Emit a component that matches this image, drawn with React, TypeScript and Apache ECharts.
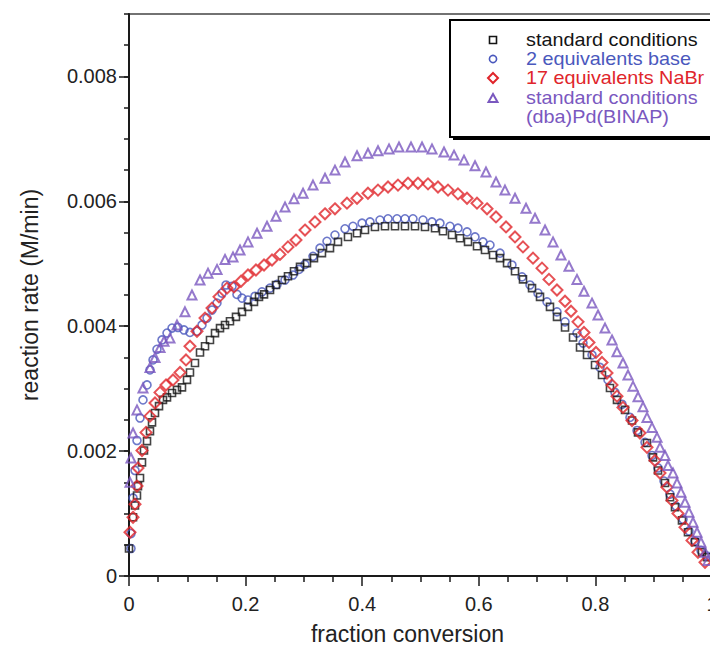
import React, { useEffect, useRef } from "react";
import * as echarts from "echarts";

const FONT = '"Liberation Sans", Arial, Helvetica, sans-serif';

const xTicks = [0, 0.2, 0.4, 0.6, 0.8, 1];
const yLabelTicks = [0, 0.002, 0.004, 0.006, 0.008];

const seriesNames = [
  "standard conditions",
  "2 equivalents base",
  "17 equivalents NaBr",
  "standard conditions\n(dba)Pd(BINAP)",
];

const standardConditions = [
  [0.0, 0.00044], [0.0069, 0.00094], [0.0103, 0.00113], [0.0137, 0.00129], [0.0154, 0.00144],
  [0.0189, 0.00157], [0.0223, 0.00182], [0.0257, 0.00201], [0.0309, 0.00216], [0.036, 0.00232],
  [0.0395, 0.00246], [0.0446, 0.00261], [0.0515, 0.00272], [0.0583, 0.00282], [0.0652, 0.00286],
  [0.0738, 0.00293], [0.0823, 0.00298], [0.0909, 0.00302], [0.0995, 0.00314], [0.1046, 0.00326],
  [0.1132, 0.00341], [0.1218, 0.00358], [0.1304, 0.00368], [0.1389, 0.00378], [0.1475, 0.00389],
  [0.1561, 0.00397], [0.1647, 0.00402], [0.1732, 0.00408], [0.1835, 0.00415], [0.1938, 0.00423],
  [0.2041, 0.00431], [0.2144, 0.00439], [0.223, 0.00447], [0.2316, 0.00451], [0.2419, 0.00458],
  [0.2521, 0.00466], [0.2624, 0.00474], [0.2727, 0.0048], [0.283, 0.00488], [0.2933, 0.00495],
  [0.3053, 0.00501], [0.3173, 0.00509], [0.331, 0.00517], [0.3448, 0.00525], [0.3585, 0.00535],
  [0.3756, 0.00543], [0.3911, 0.00549], [0.4048, 0.00554], [0.4219, 0.00559], [0.4391, 0.0056],
  [0.4563, 0.0056], [0.4734, 0.0056], [0.4906, 0.0056], [0.5077, 0.00559], [0.5249, 0.00557],
  [0.5386, 0.00552], [0.554, 0.00546], [0.5678, 0.00541], [0.5815, 0.00535], [0.5969, 0.00528],
  [0.6106, 0.00522], [0.6244, 0.00514], [0.6364, 0.00509], [0.6484, 0.00501], [0.6621, 0.00488],
  [0.6758, 0.00475], [0.6913, 0.00461], [0.705, 0.00447], [0.7221, 0.00431], [0.7341, 0.00415],
  [0.7479, 0.00398], [0.7616, 0.00382], [0.7736, 0.00366], [0.7856, 0.00354], [0.7993, 0.00338],
  [0.8113, 0.00322], [0.825, 0.00301], [0.837, 0.00282], [0.8508, 0.00266], [0.8628, 0.00249],
  [0.8731, 0.0023], [0.8885, 0.00213], [0.8988, 0.0019], [0.9074, 0.00169], [0.9194, 0.00149],
  [0.928, 0.00126], [0.9365, 0.0011], [0.9485, 0.00089], [0.9588, 0.0007], [0.9708, 0.00054],
  [0.9828, 0.00038], [0.9914, 0.0003],
];

const twoEquivBase = [
  [0.0034, 0.00044], [0.0034, 0.00068], [0.0069, 0.00125], [0.0103, 0.00169], [0.0137, 0.00217],
  [0.0189, 0.00253], [0.024, 0.00282], [0.0309, 0.00306], [0.036, 0.0033], [0.0412, 0.00346],
  [0.048, 0.00363], [0.0566, 0.00378], [0.0652, 0.00389], [0.0738, 0.00397], [0.084, 0.00398],
  [0.0943, 0.00394], [0.1046, 0.0039], [0.1166, 0.00392], [0.1252, 0.00402], [0.1338, 0.00413],
  [0.1424, 0.00426], [0.1509, 0.00437], [0.1595, 0.00453], [0.1664, 0.00466], [0.1767, 0.00464],
  [0.1852, 0.00451], [0.1938, 0.00445], [0.2041, 0.00442], [0.2161, 0.00448], [0.2281, 0.00455],
  [0.2419, 0.00461], [0.2539, 0.00467], [0.2676, 0.00474], [0.2813, 0.00482], [0.2916, 0.00491],
  [0.3019, 0.00499], [0.3156, 0.00512], [0.3276, 0.00525], [0.3396, 0.00536], [0.3533, 0.00546],
  [0.3705, 0.00556], [0.3842, 0.0056], [0.3997, 0.00565], [0.4134, 0.00567], [0.4305, 0.0057],
  [0.4443, 0.00572], [0.4597, 0.00572], [0.4734, 0.00572], [0.4871, 0.00572], [0.5043, 0.0057],
  [0.5197, 0.00567], [0.5334, 0.00565], [0.5506, 0.0056], [0.5643, 0.00557], [0.5798, 0.00551],
  [0.5935, 0.00543], [0.6072, 0.00535], [0.6192, 0.0053], [0.6364, 0.00517], [0.6569, 0.00498],
  [0.6741, 0.00479], [0.6878, 0.00466], [0.7015, 0.00453], [0.717, 0.00439], [0.7341, 0.00423],
  [0.7479, 0.00407], [0.7684, 0.00389], [0.7787, 0.00373], [0.7942, 0.00354], [0.8079, 0.00334],
  [0.8216, 0.00314], [0.8336, 0.00294], [0.8456, 0.00275], [0.8593, 0.00254], [0.8714, 0.00233],
  [0.8851, 0.00214], [0.8971, 0.00193], [0.9074, 0.00173], [0.9177, 0.00152], [0.928, 0.00131],
  [0.9383, 0.00112], [0.9503, 0.00091], [0.9605, 0.00072], [0.9708, 0.00056], [0.9811, 0.00041],
  [0.9914, 0.00032],
];

const seventeenEquivNaBr = [
  [0.0017, 0.0007], [0.0069, 0.00094], [0.0103, 0.00115], [0.0137, 0.00144], [0.0154, 0.00173],
  [0.0223, 0.00201], [0.0292, 0.0023], [0.036, 0.00256], [0.0446, 0.00277], [0.0532, 0.00294],
  [0.0635, 0.00306], [0.0755, 0.00314], [0.0875, 0.00326], [0.0978, 0.00346], [0.1046, 0.00368],
  [0.1166, 0.00392], [0.1304, 0.00413], [0.1424, 0.00429], [0.1544, 0.00447], [0.1681, 0.00461],
  [0.1801, 0.00463], [0.1921, 0.00472], [0.2041, 0.00482], [0.2178, 0.0049], [0.2316, 0.00498],
  [0.2453, 0.00506], [0.259, 0.00515], [0.2727, 0.00527], [0.2864, 0.00538], [0.3019, 0.00554],
  [0.319, 0.00567], [0.3362, 0.0058], [0.3533, 0.00588], [0.3739, 0.00597], [0.3911, 0.00605],
  [0.4099, 0.00613], [0.4271, 0.00618], [0.4443, 0.00623], [0.4614, 0.00626], [0.4786, 0.00629],
  [0.4957, 0.00629], [0.5129, 0.00628], [0.53, 0.00623], [0.5472, 0.00618], [0.5643, 0.00612],
  [0.5798, 0.00605], [0.5969, 0.00597], [0.6141, 0.00588], [0.6295, 0.00575], [0.6467, 0.00559],
  [0.6621, 0.00543], [0.6758, 0.00527], [0.693, 0.00509], [0.7084, 0.00493], [0.7204, 0.00475],
  [0.7341, 0.00458], [0.7479, 0.0044], [0.7582, 0.00424], [0.7702, 0.00407], [0.7804, 0.0039],
  [0.789, 0.00374], [0.801, 0.00358], [0.8113, 0.00342], [0.8199, 0.00325], [0.8285, 0.00306],
  [0.837, 0.00288], [0.8473, 0.0027], [0.8628, 0.00249], [0.8765, 0.00229], [0.8885, 0.00206],
  [0.9022, 0.00185], [0.9108, 0.00165], [0.9228, 0.00142], [0.9314, 0.00121], [0.9417, 0.001],
  [0.9537, 0.00078], [0.9657, 0.00057], [0.976, 0.00038], [0.988, 0.00022],
];

const dbaPdBinap = [
  [0.0017, 0.0015], [0.0034, 0.00189], [0.0069, 0.00229], [0.0137, 0.00266], [0.024, 0.00301],
  [0.036, 0.00334], [0.0446, 0.0035], [0.0532, 0.00366], [0.06, 0.00376], [0.0703, 0.00381],
  [0.0823, 0.00402], [0.096, 0.00423], [0.108, 0.0045], [0.1218, 0.00474], [0.1355, 0.00485],
  [0.151, 0.00491], [0.1647, 0.00507], [0.1784, 0.00511], [0.1904, 0.00522], [0.2041, 0.00535],
  [0.2196, 0.00549], [0.2367, 0.0056], [0.2521, 0.00576], [0.2676, 0.00591], [0.283, 0.00604],
  [0.2985, 0.00613], [0.3156, 0.00626], [0.3362, 0.00637], [0.3533, 0.0065], [0.3705, 0.00663],
  [0.3911, 0.00673], [0.4099, 0.00677], [0.4271, 0.00681], [0.446, 0.00684], [0.4631, 0.00687],
  [0.4837, 0.00687], [0.5026, 0.00687], [0.5197, 0.00684], [0.5403, 0.00679], [0.5575, 0.00674],
  [0.5746, 0.00666], [0.5935, 0.00657], [0.6123, 0.00647], [0.6295, 0.00631], [0.6449, 0.00618],
  [0.6621, 0.00605], [0.681, 0.00589], [0.6964, 0.00573], [0.7136, 0.00554], [0.7273, 0.00535],
  [0.741, 0.00514], [0.7547, 0.00496], [0.7684, 0.00475], [0.7804, 0.00456], [0.7942, 0.00437],
  [0.8045, 0.00418], [0.8165, 0.00397], [0.8285, 0.00378], [0.837, 0.00359], [0.8473, 0.00341],
  [0.8559, 0.00322], [0.8645, 0.00304], [0.8731, 0.00287], [0.8817, 0.00271], [0.8885, 0.00254],
  [0.8971, 0.00238], [0.9057, 0.00222], [0.9108, 0.00206], [0.9194, 0.00193], [0.9245, 0.00177],
  [0.9331, 0.00165], [0.94, 0.00149], [0.9468, 0.00134], [0.9537, 0.00118], [0.9605, 0.00102],
  [0.9674, 0.00086], [0.9743, 0.0007], [0.9811, 0.00054], [0.988, 0.00038], [0.9931, 0.00025],
];

const COLORS = ["#141414", "#4a58bd", "#e0252b", "#7a58bf"];

export default function App() {
  const ref = useRef<HTMLDivElement>(null);

  useEffect(() => {
    if (!ref.current) return;
    const chart = echarts.init(ref.current, null, { renderer: "svg" });
    const axisColor = "#1a1a1a";
    const tickStyle = { color: axisColor, width: 1.5 };
    const GT = 14;
    const GH = 562;

    const makeSeries = (
      name: string,
      data: number[][],
      symbol: string,
      size: number,
      color: string,
      bw: number
    ) => ({
      name,
      type: "scatter",
      xAxisIndex: 0,
      yAxisIndex: 0,
      data,
      symbol,
      symbolSize: size,
      itemStyle: { color: "rgba(255,255,255,0)", borderColor: color, borderWidth: bw },
      emphasis: { disabled: true },
      clip: true,
    });

    const legendY = [40, 59, 78, 98];
    const legendText = [
      { t: "standard conditions", y: 40, c: COLORS[0] },
      { t: "2 equivalents base", y: 59, c: COLORS[1] },
      { t: "17 equivalents NaBr", y: 78, c: COLORS[2] },
      { t: "standard conditions", y: 98, c: COLORS[3] },
      { t: "(dba)Pd(BINAP)", y: 117, c: COLORS[3] },
    ];
    const mx = 493;

    chart.setOption({
      animation: false,
      textStyle: { fontFamily: FONT },
      grid: [
        {
          left: 129, top: GT, width: 583, height: GH,
          show: true, borderColor: "#444", borderWidth: 1.5,
          backgroundColor: "rgba(0,0,0,0)",
          containLabel: false,
          outerBoundsMode: "none",
        },
        {
          left: 129, top: GT + GH / 9, width: 583, height: (GH * 8) / 9,
          show: false,
          containLabel: false,
          outerBoundsMode: "none",
        },
      ],
      xAxis: [
        {
          gridIndex: 0, type: "value", min: xTicks[0], max: xTicks[xTicks.length - 1], interval: 0.2,
          axisLine: { show: true, onZero: false, lineStyle: { color: axisColor, width: 2 } },
          axisTick: { show: true, length: 10, lineStyle: tickStyle },
          minorTick: { show: true, splitNumber: 4, length: 6, lineStyle: tickStyle },
          splitLine: { show: false },
          minorSplitLine: { show: false },
          axisLabel: { fontSize: 20, color: "#222", margin: 18, fontFamily: FONT },
          name: "fraction conversion",
          nameLocation: "middle",
          nameGap: 46,
          nameTextStyle: { fontSize: 23, color: "#222", fontFamily: FONT, padding: [0, 26, 0, 0] },
        },
        { gridIndex: 1, type: "value", min: 0, max: 1, show: false },
      ],
      yAxis: [
        {
          gridIndex: 0, type: "value", min: 0, max: 0.009, interval: 0.0005,
          axisLine: { show: true, onZero: false, lineStyle: { color: axisColor, width: 2 } },
          axisTick: { show: true, length: 5, lineStyle: tickStyle },
          axisLabel: { show: false },
          splitLine: { show: false },
          name: "reaction rate (M/min)",
          nameLocation: "middle",
          nameGap: 88,
          nameTextStyle: { fontSize: 23, color: "#222", fontFamily: FONT },
        },
        {
          gridIndex: 1, type: "value", min: yLabelTicks[0], max: yLabelTicks[yLabelTicks.length - 1],
          interval: 0.002,
          axisLine: { show: false },
          axisTick: { show: true, length: 10, lineStyle: tickStyle },
          axisLabel: {
            fontSize: 20, color: "#222", margin: 12, fontFamily: FONT,
            formatter: (v: number) => (v === 0 ? "0" : v.toFixed(3)),
          },
          splitLine: { show: false },
        },
      ],
      series: [
        makeSeries(seriesNames[1], twoEquivBase, "circle", 8, COLORS[1], 1.6),
        makeSeries(seriesNames[0], standardConditions, "rect", 7, COLORS[0], 1.6),
        makeSeries(seriesNames[2], seventeenEquivNaBr, "diamond", 11, COLORS[2], 2),
        makeSeries(seriesNames[3], dbaPdBinap, "triangle", 9, COLORS[3], 2),
      ],
      graphic: [
        { type: "rect", z: 100, shape: { x: 453, y: 23, width: 300, height: 117 }, style: { fill: "#000" } },
        { type: "rect", z: 101, shape: { x: 450, y: 20, width: 300, height: 117 }, style: { fill: "#fff", stroke: "#000", lineWidth: 2 } },
        { type: "rect", z: 102, shape: { x: mx - 3.5, y: legendY[0] - 3.5, width: 7, height: 7 }, style: { fill: "none", stroke: COLORS[0], lineWidth: 1.6 } },
        { type: "circle", z: 102, shape: { cx: mx, cy: legendY[1], r: 3.6 }, style: { fill: "none", stroke: COLORS[1], lineWidth: 1.6 } },
        { type: "polygon", z: 102, shape: { points: [[mx, legendY[2] - 5], [mx + 5, legendY[2]], [mx, legendY[2] + 5], [mx - 5, legendY[2]]] }, style: { fill: "none", stroke: COLORS[2], lineWidth: 2 } },
        { type: "polygon", z: 102, shape: { points: [[mx, legendY[3] - 4], [mx + 4.5, legendY[3] + 4], [mx - 4.5, legendY[3] + 4]] }, style: { fill: "none", stroke: COLORS[3], lineWidth: 2 } },
        ...legendText.map((l) => ({
          type: "text", z: 102, x: 526, y: l.y, scaleX: 1.1,
          style: { text: l.t, fill: l.c, fontSize: 18, fontFamily: FONT, verticalAlign: "middle", align: "left" },
        })),
      ],
    });
    return () => chart.dispose();
  }, []);

  return (
    <div
      ref={ref}
      style={{ position: "absolute", left: 0, top: 0, width: 710, height: 654, background: "#fff" }}
    />
  );
}
